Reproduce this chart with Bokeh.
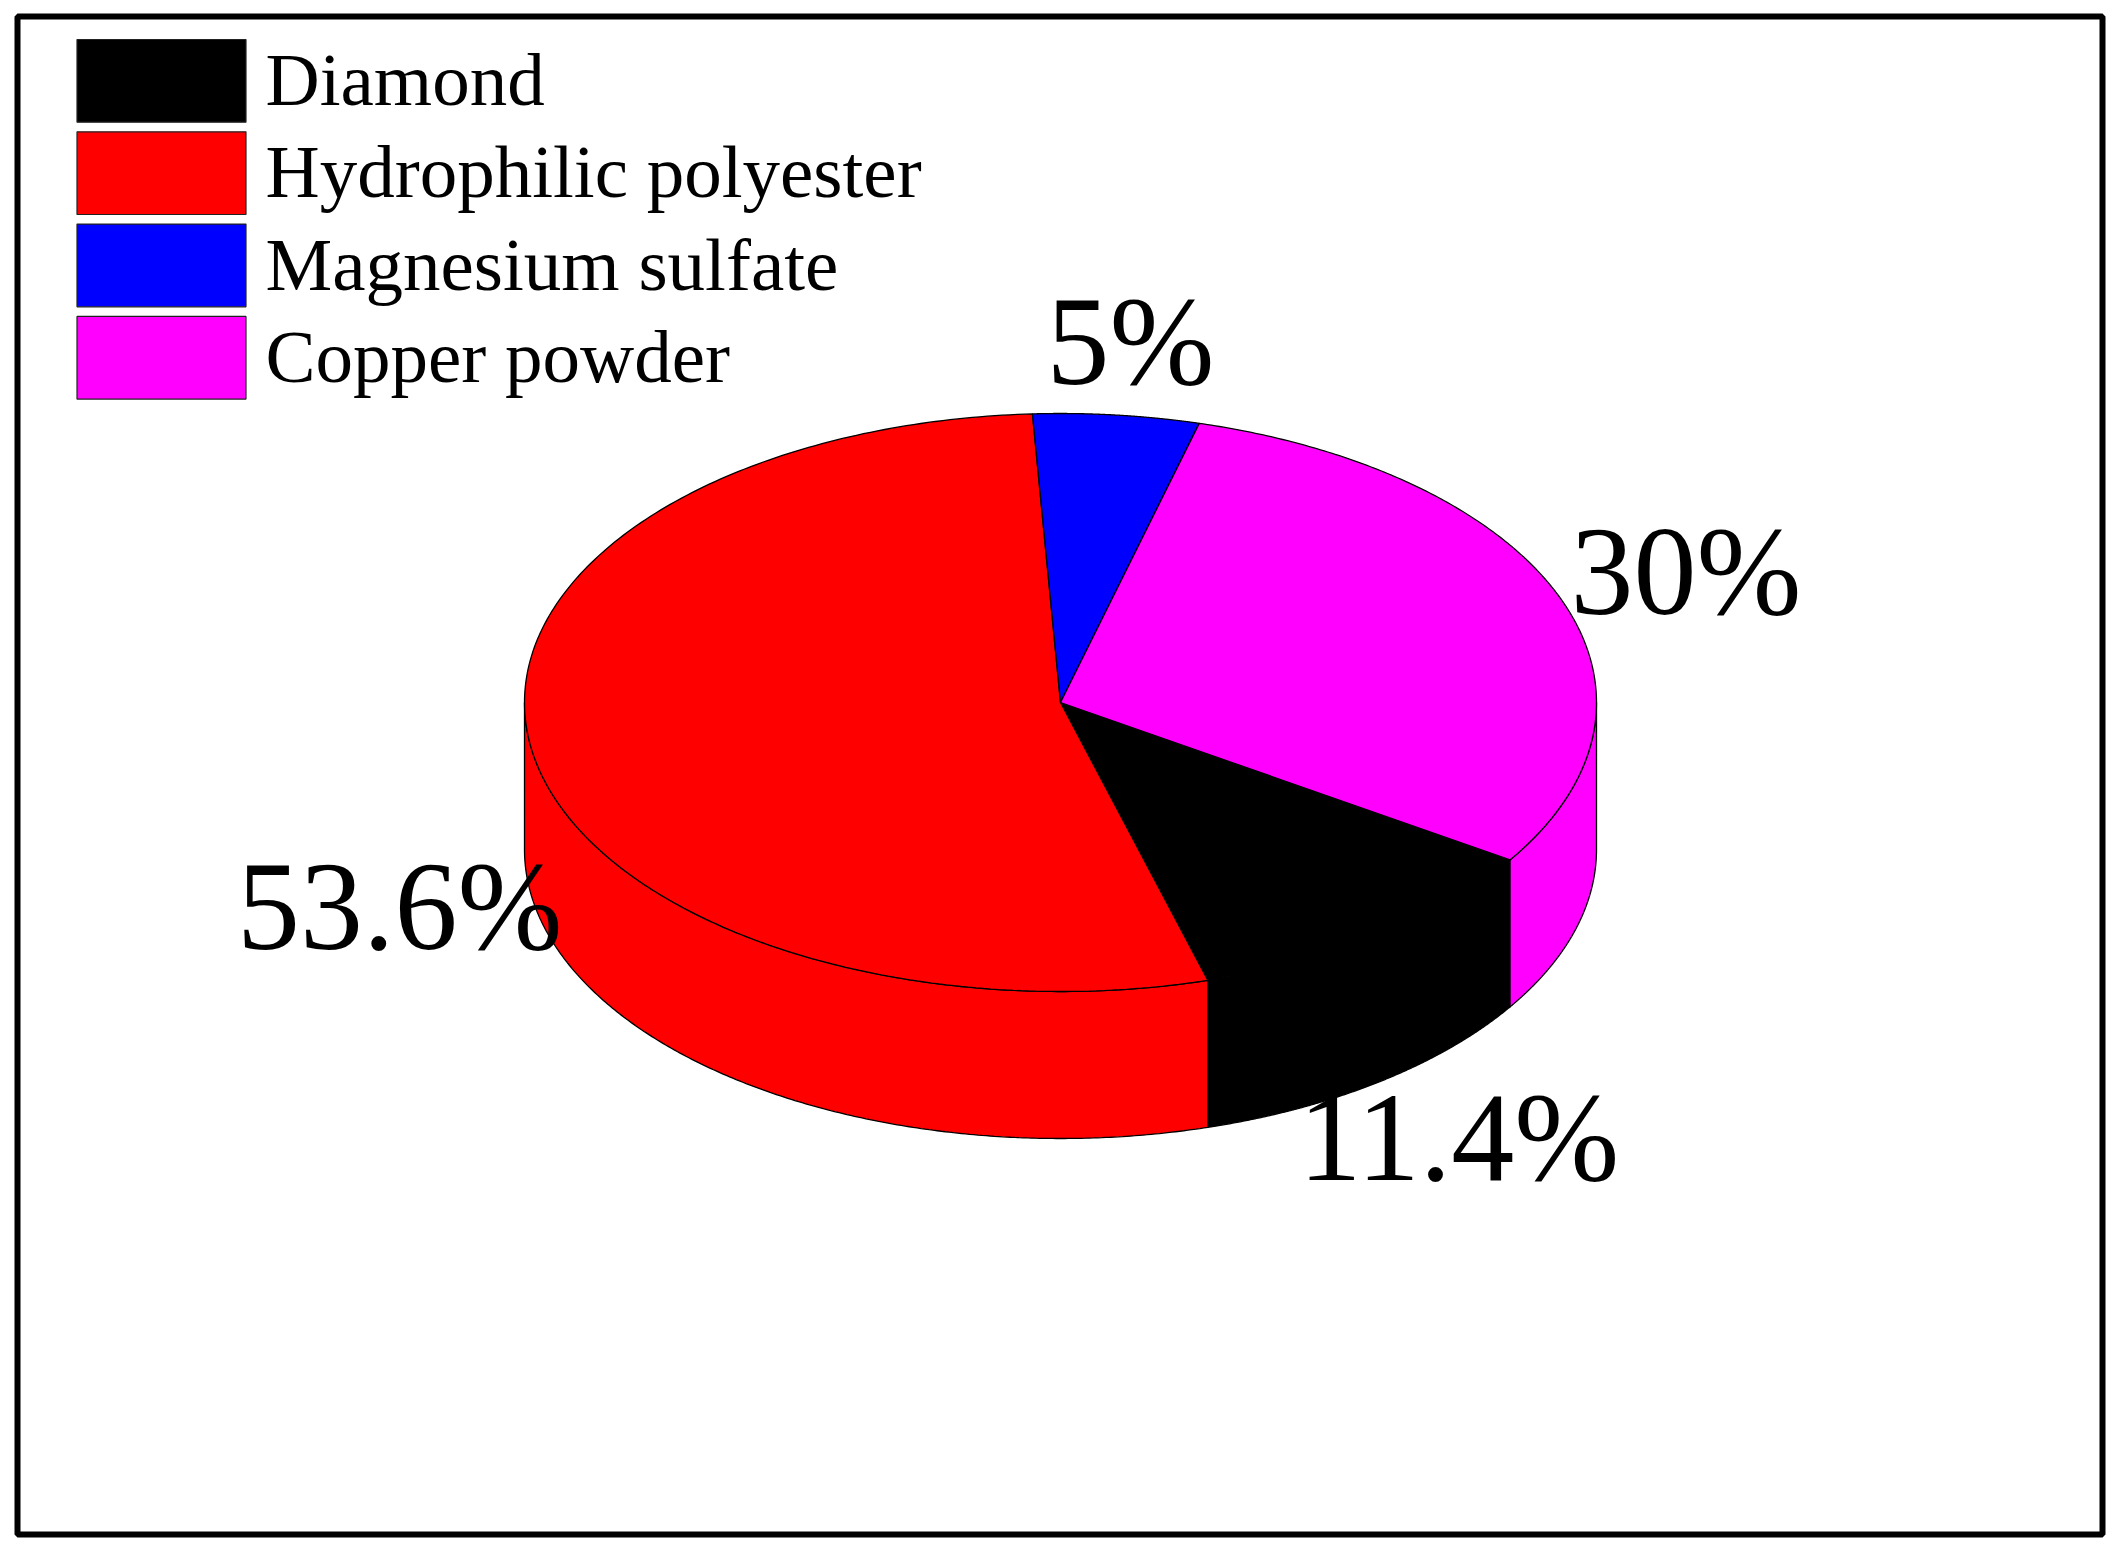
import numpy as np
from bokeh.plotting import figure
from bokeh.models import Range1d
from bokeh.embed import file_html
from bokeh.resources import INLINE
from bokeh.core.properties import value

# ---- data ----
materials = ["Diamond", "Hydrophilic polyester", "Magnesium sulfate", "Copper powder"]
percent = [11.4, 53.6, 5.0, 30.0]
pct_labels = ["11.4%", "53.6%", "5%", "30%"]
colors = ["#000000", "#ff0000", "#0000ff", "#ff00ff"]

# ---- layout (pixels) ----
FW, FH = 2085, 1518
CX, CY = 1043.0, 832.0       # centre of the top face
RX, RY = 536.0, 289.0        # ellipse radii
DEPTH = 147.0                # thickness of the pie
START = -33.0                # start angle (deg), slices go clockwise
LABEL_K = 1.25
FONT = "'Liberation Serif'"

p = figure(width=2112, height=1544,
           x_range=Range1d(0, FW), y_range=Range1d(0, FH),
           min_border_left=17, min_border_right=10, min_border_top=16, min_border_bottom=10,
           toolbar_location=None, output_backend="svg",
           x_axis_location=None, y_axis_location=None)
p.grid.visible = False
p.outline_line_color = "black"
p.outline_line_width = 6
p.background_fill_color = "white"
p.border_fill_color = "white"

frac = np.array(percent) / np.sum(percent)
cum = np.concatenate([[0.0], np.cumsum(frac)]) * 360.0
starts = START - cum[:-1]
ends = START - cum[1:]

def arc(a, b, n=240, dy=0.0):
    t = np.radians(np.linspace(a, b, n))
    return CX + RX * np.cos(t), CY - dy + RY * np.sin(t)

# side walls (front half only)
sx, sy, sc = [], [], []
for s, e, c in zip(starts, ends, colors):
    lo, hi = e, s
    for k in range(-3, 3):
        a = max(lo, -180.0 + 360.0 * k)
        b = min(hi, 0.0 + 360.0 * k)
        if b - a > 1e-6:
            tx, ty = arc(a, b)
            bx, by = arc(b, a, dy=DEPTH)
            sx.append(list(tx) + list(bx))
            sy.append(list(ty) + list(by))
            sc.append(c)
p.patches(xs=sx, ys=sy, fill_color=sc, line_color="black", line_width=1.3)

# top face wedges
wx, wy = [], []
for s, e in zip(starts, ends):
    ax, ay = arc(s, e)
    wx.append([CX] + list(ax) + [CX])
    wy.append([CY] + list(ay) + [CY])
p.patches(xs=wx, ys=wy, fill_color=colors, line_color="black", line_width=1.3)

# percentage labels
mids = np.radians((starts + ends) / 2.0)
lx = CX + LABEL_K * RX * np.cos(mids)
ly = CY + LABEL_K * RY * np.sin(mids) - np.where(np.sin(mids) < 0, DEPTH, 0.0)
p.text(x=lx, y=ly, text=pct_labels, text_font=value(FONT), text_font_size="126px",
       text_align="center", text_baseline="alphabetic", y_offset=-2, text_color="black")

# legend
idx = np.arange(len(materials))
box_top = FH - 23.0 - 92.3 * idx
p.quad(left=59.5, right=228.5, top=box_top, bottom=box_top - 82.7,
       fill_color=colors, line_color="#222222", line_width=1.2)
p.text(x=248.0, y=box_top - 40.0, text=materials, text_font=value(FONT),
       text_font_size="75px", text_align="left", text_baseline="alphabetic", text_color="black")

open("out.html", "w").write(file_html(p, INLINE))
